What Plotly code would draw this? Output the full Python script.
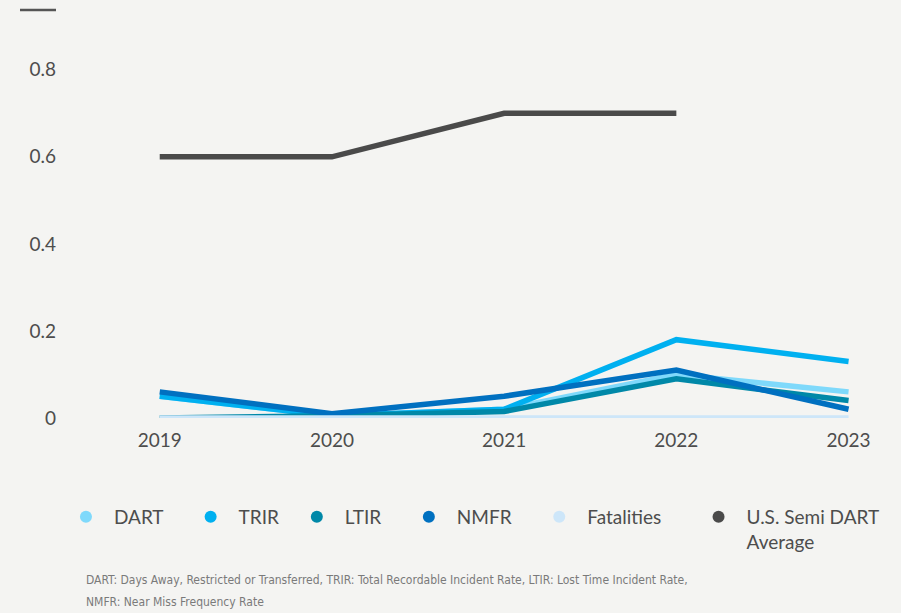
import plotly.graph_objects as go

# data
years = ['2019', '2020', '2021', '2022', '2023']
dart = [0.05, 0.005, 0.02, 0.10, 0.06]
trir = [0.05, 0.005, 0.02, 0.18, 0.13]
ltir = [0.0, 0.005, 0.015, 0.09, 0.04]
nmfr = [0.06, 0.01, 0.05, 0.11, 0.02]
fatalities = [0, 0, 0, 0, 0]
us_semi_dart = [0.6, 0.6, 0.7, 0.7, None]

NB = '\u00a0'  # non-breaking spaces widen the legend entries a bit
series = [
    ('DART', NB * 3, dart, '#7fd9fb'),
    ('TRIR', NB * 1, trir, '#00b0f0'),
    ('LTIR', NB * 3, ltir, '#0088a8'),
    ('NMFR', NB * 3, nmfr, '#0070c0'),
    ('Fatalities', NB * 5, fatalities, '#cde6f9'),
    ('U.S. Semi DART<br>Average', '', us_semi_dart, '#4a4a4a'),
]

BG = '#f4f4f2'
TXT = '#4d4d4d'
FONT = 'Lato, Open Sans, sans-serif'

fig = go.Figure()

# lines (no legend entries)
for name, pad, vals, color in series:
    fig.add_trace(go.Scatter(
        x=years, y=vals, mode='lines', name=name,
        line=dict(color=color, width=5.5),
        showlegend=False,
    ))

# legend entries shown as dots
for name, pad, vals, color in series:
    fig.add_trace(go.Scatter(
        x=[None], y=[None], mode='markers', name=name + pad,
        marker=dict(color=color, size=13),
    ))

# small dash at top left
fig.add_shape(type='line', xref='paper', yref='paper',
              x0=-0.055, x1=-0.011, y0=1.103, y1=1.103,
              line=dict(color='#555555', width=2.5))

# footnote, two lines
footnote = [
    'DART: Days Away, Restricted or Transferred, TRIR: Total Recordable Incident Rate, '
    'LTIR: Lost Time Incident Rate,',
    'NMFR: Near Miss Frequency Rate',
]
for i, line in enumerate(footnote):
    fig.add_annotation(
        text=line, xref='paper', yref='paper',
        x=0.023, y=-0.438 - i * 0.0595,
        xanchor='left', yanchor='middle', align='left', showarrow=False,
        font=dict(family='DejaVu Sans Condensed, sans-serif',
                  size=12, color='#7a7a7a'),
    )

fig.update_layout(
    width=901, height=613,
    margin=dict(l=65, r=18, t=48, b=195),
    paper_bgcolor=BG, plot_bgcolor=BG,
    font=dict(family=FONT, size=19, color=TXT),
    xaxis=dict(
        type='category', range=[-0.55, 4.2],
        showgrid=False, zeroline=False, showline=False,
        ticks='', ticklabelstandoff=9,
    ),
    yaxis=dict(
        range=[0, 0.85], dtick=0.2, tick0=0,
        showgrid=False, zeroline=False, showline=False,
        ticks='', ticklabelstandoff=8,
    ),
    legend=dict(
        orientation='h', x=-0.0086, y=-0.216, xanchor='left', yanchor='top',
        font=dict(family=FONT, size=19, color=TXT),
        bgcolor='rgba(0,0,0,0)', itemsizing='constant', itemwidth=46,
        traceorder='normal', valign='top',
    ),
)

fig.write_html("out.html", config={'displayModeBar': False},
               post_script="document.body.style.margin='0';"
                           "document.body.style.overflow='hidden';")
